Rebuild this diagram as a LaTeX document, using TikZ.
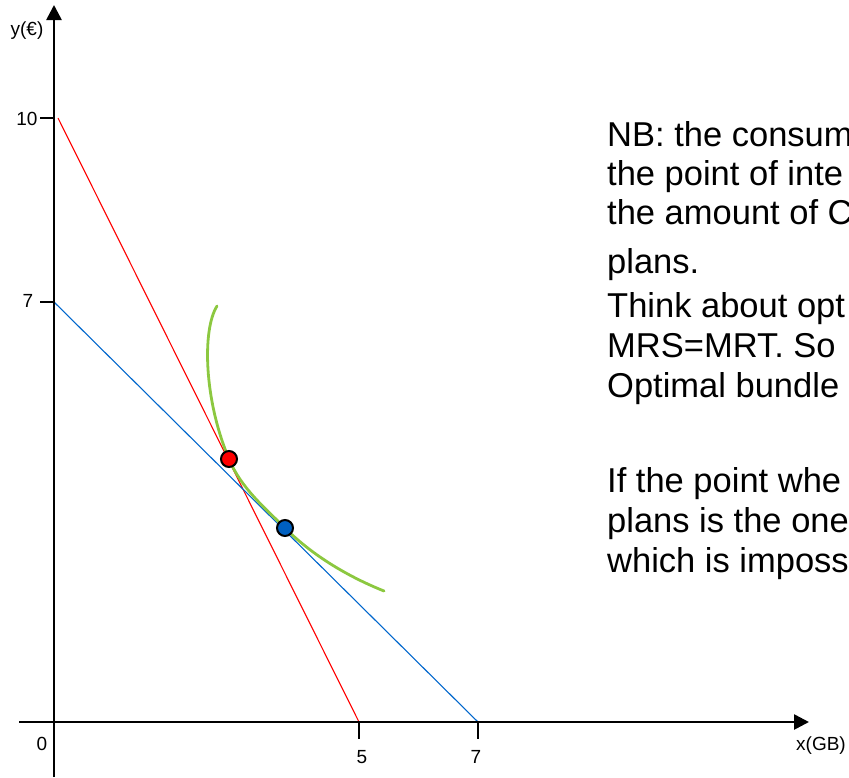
\documentclass[tikz,border=0pt]{standalone}
\usepackage{fontspec}
\setmainfont{Liberation Sans}
\usetikzlibrary{arrows.meta}
\definecolor{lineblue}{RGB}{0,102,204}
\definecolor{dotblue}{RGB}{0,96,192}
\definecolor{curvegreen}{RGB}{140,200,64}
\tikzset{
  axis/.style={line width=2.6pt, -{Triangle[length=15pt,width=15pt]}},
  tick/.style={line width=1.1pt},
  small/.style={font=\fontsize{19}{22}\selectfont, inner sep=0pt},
  txt/.style={font=\fontsize{34.5}{40}\selectfont, inner sep=0pt, anchor=base west},
  dot/.style={circle, draw=black, line width=2pt, minimum size=16pt, inner sep=0pt},
}
\begin{document}
\begin{tikzpicture}[x=1pt,y=-1pt]
\useasboundingbox (0,0) rectangle (849,777);
% coordinates
\coordinate (O) at (54,722);
\coordinate (ybot) at (54,777);
\coordinate (ytop) at (54,5);
\coordinate (xleft) at (19,722);
\coordinate (xright) at (809,722);
\coordinate (r1) at (58,118);
\coordinate (r2) at (359,722);
\coordinate (b1) at (54,302);
\coordinate (b2) at (478,722);
% budget lines
\draw[red, line width=1.1pt] (r1) -- (r2);
\draw[lineblue, line width=1.1pt] (b1) -- (b2);
% indifference curve
\coordinate (g0) at (217,306);
\coordinate (g1) at (229,459);
\coordinate (g2) at (285,528);
\coordinate (g3) at (384,591);
\draw[curvegreen, line width=2.8pt, line cap=round]
  (g0) .. controls (202,330) and (204,400) .. (g1)
       .. controls (241,488) and (265,508) .. (g2)
       .. controls (313,556) and (349,577) .. (g3);
% axes
\draw[axis] (ybot) -- (ytop);
\draw[axis] (xleft) -- (xright);
% ticks
\draw[tick] (40,118) -- (54,118);
\draw[tick] (40,302) -- (54,302);
\draw[tick] (r2) -- (359,739);
\draw[tick] (b2) -- (478,739);
% labels
\node[small] (ylab) at (27,31) {y(€)};
\node[small] (l10) at (27,119) {10};
\node[small] (l7y) at (28,301) {7};
\node[small] (l0) at (42,744) {0};
\node[small] (l5) at (362,757) {5};
\node[small] (l7x) at (476,757) {7};
\node[small, anchor=west] (xlab) at (796,746) {x(GB)};
% dots
\node[dot, fill=red] (red) at (g1) {};
\node[dot, fill=dotblue] (blue) at (g2) {};
% text
\begin{scope}
\clip (590,90) rectangle (849,600);
\node[txt] (t1) at (607,146) {NB: the consum};
\node[txt] (t2) at (607,185) {the point of inte};
\node[txt] (t3) at (607,224) {the amount of C};
\node[txt] (t4) at (607,273) {plans.};
\node[txt] (t5) at (607,317) {Think about opt};
\node[txt] (t6) at (607,357) {MRS=MRT. So};
\node[txt] (t7) at (607,397) {Optimal bundle};
\node[txt] (t8) at (607,492) {If the point whe};
\node[txt] (t9) at (607,532) {plans is the one};
\node[txt] (t10) at (607,572) {which is imposs};
\end{scope}
\end{tikzpicture}
\end{document}
